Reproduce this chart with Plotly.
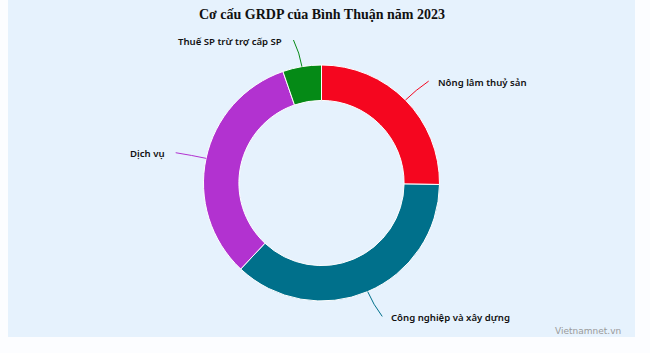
import math
import plotly.graph_objects as go

categories = ["Nông lâm thuỷ sản", "Công nghiệp và xây dựng", "Dịch vụ", "Thuế SP trừ trợ cấp SP"]
values = [25.2, 36.8, 32.7, 5.3]
colors = ["#f5061f", "#00708b", "#b232d0", "#058a16"]
title_text = "Cơ cấu GRDP của Bình Thuận năm 2023"
source_text = "Vietnamnet.vn"

W, H = 650, 353
cx, cy, R = 321.5, 183, 118
hole = 0.70

fig = go.Figure()
fig.add_trace(go.Pie(
    labels=categories, values=values, hole=hole, sort=False, direction="clockwise",
    rotation=0, textinfo="none", hoverinfo="label+percent",
    marker=dict(colors=colors, line=dict(color="#ffffff", width=1)),
    domain=dict(x=[(cx - R) / W, (cx + R) / W], y=[(H - cy - R) / H, (H - cy + R) / H]),
    showlegend=False,
))

def px(x):
    return x / W

def py(y):
    return 1 - y / H

shapes = [dict(type="rect", xref="paper", yref="paper", x0=px(8), x1=px(635), y0=py(337), y1=py(0),
               fillcolor="#e6f2fd", line=dict(width=0), layer="below")]
annotations = []

total = sum(values)
cum = 0
for lab, v, col in zip(categories, values, colors):
    mid = (cum + v / 2) / total * 2 * math.pi
    cum += v
    sx, sy = math.sin(mid), -math.cos(mid)
    x0, y0 = cx + R * sx, cy + R * sy
    x1, y1 = cx + (R + 14) * sx, cy + (R + 14) * sy
    right = sx >= 0
    x2 = cx + (R + 27) * sx + (4 if right else -4)
    y2 = cy + (R + 27) * sy
    path = f"M {px(x0)},{py(y0)} Q {px(x1)},{py(y1)} {px(x2)},{py(y2)}"
    shapes.append(dict(type="path", xref="paper", yref="paper", path=path,
                       line=dict(color=col, width=1)))
    annotations.append(dict(
        x=px(x2 + (7 if right else -9)), y=py(y2 + 1), xref="paper", yref="paper",
        text=lab, showarrow=False, xanchor="left" if right else "right", yanchor="middle",
        font=dict(family="Noto Sans, DejaVu Sans, sans-serif", size=9.6, color="#111111", weight=600),
    ))

annotations.append(dict(
    x=px(322), y=py(14), xref="paper", yref="paper", text=f"<b>{title_text}</b>", showarrow=False,
    xanchor="center", yanchor="middle",
    font=dict(family="Liberation Serif, Times New Roman, serif", size=14, color="#111111"),
))
annotations.append(dict(
    x=px(623), y=py(331), xref="paper", yref="paper", text=source_text, showarrow=False,
    xanchor="right", yanchor="middle",
    font=dict(family="DejaVu Sans, sans-serif", size=9, color="#9a9a9a"),
))

fig.update_layout(
    width=W, height=H, margin=dict(l=0, r=0, t=0, b=0),
    paper_bgcolor="#fcfdff", plot_bgcolor="#fcfdff",
    shapes=shapes, annotations=annotations,
)

fig.write_html("out.html", config={"displayModeBar": False})
